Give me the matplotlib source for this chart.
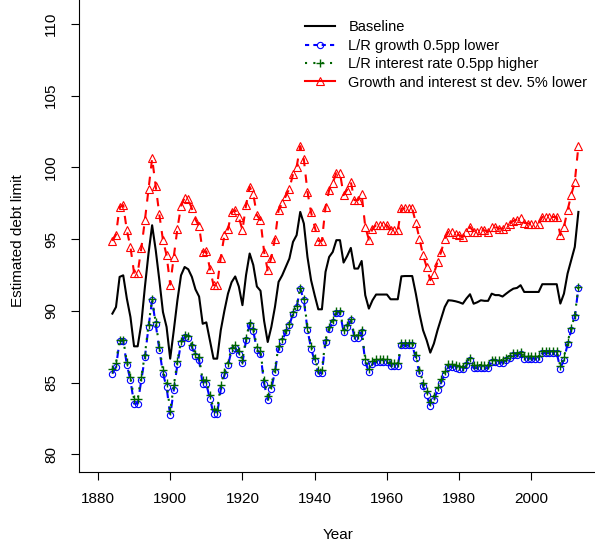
import numpy as np
import matplotlib
matplotlib.use('Agg')
import matplotlib.pyplot as plt
from matplotlib.lines import Line2D

plt.rcParams['font.family'] = ['Liberation Sans', 'DejaVu Sans']
plt.rcParams['font.size'] = 11

# one value per year, 1884 to 2013
years = np.arange(1884, 2014)

baseline = [
    89.81, 90.27, 92.37, 92.48, 90.86, 89.57, 87.53, 87.53, 89.1, 91.67,
    94.0, 95.97, 94.23, 92.14, 89.92, 88.88, 86.67, 88.65, 90.74, 92.48,
    93.06, 92.9, 92.37, 91.5, 91.0, 89.1, 89.2, 87.93, 86.67, 86.67,
    88.65, 90.0, 91.2, 92.0, 92.4, 91.7, 90.4, 92.5, 94.0, 93.2,
    91.7, 91.4, 89.3, 87.83, 88.88, 90.27, 92.02, 92.48, 93.06, 93.65,
    94.81, 95.28, 96.9, 96.09, 93.76, 92.14, 91.09, 90.11, 90.11, 92.72,
    93.76, 94.11, 94.93, 94.93, 93.37, 93.83, 94.39, 92.95, 92.95, 93.48,
    91.09, 90.16, 90.74, 91.14, 91.14, 91.14, 91.14, 90.81, 90.81, 90.81,
    92.41, 92.43, 92.43, 92.43, 91.2, 89.81, 88.65, 87.95, 87.09, 87.72,
    88.65, 89.45, 90.27, 90.74, 90.72, 90.67, 90.6, 90.5, 90.86, 91.16,
    90.5, 90.6, 90.74, 90.7, 90.7, 91.2, 91.1, 91.1, 91.0, 91.2,
    91.39, 91.55, 91.6, 91.79, 91.32, 91.32, 91.32, 91.32, 91.32, 91.86,
    91.86, 91.86, 91.86, 91.86, 90.51, 91.2, 92.6, 93.53, 94.46, 96.9]

growth_lower = [
    85.62, 86.09, 87.9, 87.9, 86.25, 85.16, 83.53, 83.53, 85.16, 86.78,
    88.88, 90.74, 89.06, 87.3, 85.62, 84.69, 82.71, 84.51, 86.27, 87.76,
    88.18, 88.14, 87.48, 86.83, 86.55, 84.88, 84.9, 83.88, 82.83, 82.81,
    84.51, 85.51, 86.2, 87.25, 87.44, 87.02, 86.37, 87.95, 89.04, 88.6,
    87.3, 87.0, 84.92, 83.8, 84.58, 85.74, 87.37, 87.9, 88.53, 89.0,
    89.81, 90.27, 91.55, 90.74, 88.69, 87.37, 86.5, 85.67, 85.67, 87.83,
    88.72, 89.23, 89.88, 89.88, 88.53, 88.88, 89.34, 88.14, 88.14, 88.53,
    86.44, 85.74, 86.32, 86.44, 86.44, 86.44, 86.44, 86.16, 86.16, 86.16,
    87.6, 87.6, 87.6, 87.6, 86.72, 85.67, 84.74, 84.11, 83.34, 83.76,
    84.46, 85.0, 85.6, 86.1, 86.1, 86.05, 85.97, 85.93, 86.2, 86.55,
    86.0, 86.02, 86.05, 86.05, 86.0, 86.44, 86.44, 86.4, 86.4, 86.55,
    86.74, 86.9, 86.9, 87.02, 86.67, 86.67, 86.67, 86.67, 86.67, 87.06,
    87.06, 87.06, 87.06, 87.06, 85.97, 86.6, 87.67, 88.65, 89.57, 91.6]

interest_higher = [
    85.95, 86.35, 88.0, 88.0, 86.45, 85.4, 83.85, 83.85, 85.4, 86.95,
    89.0, 90.8, 89.2, 87.5, 85.85, 84.95, 83.05, 84.8, 86.5, 87.9,
    88.3, 88.25, 87.65, 87.0, 86.75, 85.15, 85.15, 84.15, 83.15, 83.1,
    84.8, 85.75, 86.4, 87.4, 87.6, 87.2, 86.55, 88.1, 89.15, 88.75,
    87.5, 87.2, 85.15, 84.1, 84.85, 85.95, 87.55, 88.05, 88.65, 89.1,
    89.9, 90.35, 91.6, 90.85, 88.85, 87.55, 86.7, 85.9, 85.9, 88.0,
    88.85, 89.35, 89.98, 89.98, 88.7, 89.0, 89.45, 88.3, 88.3, 88.68,
    86.65, 85.95, 86.5, 86.62, 86.62, 86.62, 86.62, 86.35, 86.35, 86.35,
    87.75, 87.75, 87.75, 87.75, 86.9, 85.9, 85.0, 84.4, 83.65, 84.05,
    84.7, 85.25, 85.8, 86.28, 86.28, 86.23, 86.15, 86.12, 86.38, 86.7,
    86.2, 86.2, 86.23, 86.23, 86.2, 86.6, 86.6, 86.57, 86.57, 86.7,
    86.88, 87.03, 87.03, 87.15, 86.82, 86.82, 86.82, 86.82, 86.82, 87.2,
    87.2, 87.2, 87.2, 87.2, 86.15, 86.78, 87.82, 88.78, 89.68, 91.65]

stdev_lower = [
    94.88, 95.32, 97.25, 97.37, 95.62, 94.46, 92.65, 92.65, 94.35, 96.32,
    98.49, 100.63, 98.7, 96.72, 94.93, 93.88, 91.83, 93.76, 95.74, 97.3,
    97.9, 97.77, 97.14, 96.37, 95.9, 94.11, 94.15, 92.95, 91.79, 91.79,
    93.72, 95.28, 95.69, 96.9, 97.02, 96.55, 95.62, 97.37, 98.65, 98.14,
    96.67, 96.32, 94.11, 92.83, 93.72, 95.04, 97.02, 97.49, 98.0, 98.53,
    99.53, 100.04, 101.49, 100.56, 98.3, 96.86, 95.86, 94.88, 94.88, 97.25,
    98.42, 98.93, 99.62, 99.62, 98.07, 98.46, 99.0, 97.72, 97.72, 98.14,
    95.86, 94.97, 95.74, 95.97, 95.97, 95.97, 95.97, 95.62, 95.62, 95.62,
    97.14, 97.14, 97.14, 97.14, 96.14, 95.04, 93.88, 93.06, 92.14, 92.6,
    93.41, 94.1, 95.04, 95.51, 95.47, 95.35, 95.28, 95.16, 95.51, 95.86,
    95.51, 95.51, 95.62, 95.62, 95.51, 95.86, 95.86, 95.74, 95.74, 95.9,
    96.09, 96.28, 96.37, 96.49, 96.14, 96.09, 96.09, 96.09, 96.09, 96.55,
    96.55, 96.55, 96.55, 96.55, 95.28, 95.86, 97.02, 98.07, 99.0, 101.49]

labels = ['Baseline', 'L/R growth 0.5pp lower',
          'L/R interest rate 0.5pp higher', 'Growth and interest st dev. 5% lower']

fig = plt.figure(figsize=(5.95, 5.46), dpi=100)
# R style plot region, cropped at the top and right of the png
ax = fig.add_axes([0.1323, 0.1364, 0.8721, 0.8636])

ax.plot(years, baseline, color='black', lw=1.5)
ax.plot(years, growth_lower, color='blue', lw=1.5, dashes=(4, 4),
        marker='o', ms=4.5, mfc='none', mew=0.8)
ax.plot(years, interest_higher, color='#006400', lw=1.5, dashes=(1, 3),
        marker='+', ms=6, mew=1.0)
ax.plot(years, stdev_lower, color='red', lw=1.5, dashes=(4, 4),
        marker='^', ms=5.5, mfc='none', mew=0.8)

ax.set_xlim(1874.68, 2018.32)
ax.set_ylim(78.8, 111.675)
ax.set_xticks(np.arange(1880, 2001, 20))
ax.set_yticks(np.arange(80, 111, 5))
ax.tick_params(direction='out', length=6, width=0.8, pad=9, labelsize=11)
for lab in ax.get_yticklabels():
    lab.set_rotation(90)
    lab.set_va('center')
for s in ax.spines.values():
    s.set_linewidth(0.8)
ax.spines['top'].set_visible(False)

ax.set_xlabel('Year', va='center')
ax.set_ylabel('Estimated debt limit', va='center')
ax.xaxis.set_label_coords(0.5, -0.1356)
ax.yaxis.set_label_coords(-0.117, 0.49)

# legend, no box
handles = [
    Line2D([], [], color='black', lw=1.5),
    Line2D([], [], color='blue', lw=1.5, dashes=(2, 2), marker='o', ms=4.5, mfc='none', mew=0.8),
    Line2D([], [], color='#006400', lw=1.5, dashes=(1, 3), marker='+', ms=6, mew=1.0),
    Line2D([], [], color='red', lw=1.5, marker='^', ms=5.5, mfc='none', mew=0.8),
]
fig.legend(handles=handles, labels=labels, loc='upper left',
           bbox_to_anchor=(0.5134, 0.9625), frameon=False, fontsize=10.5,
           handlelength=2.0, handletextpad=0.95, labelspacing=0.3,
           borderaxespad=0, borderpad=0)

plt.savefig('out.png', dpi=100)
